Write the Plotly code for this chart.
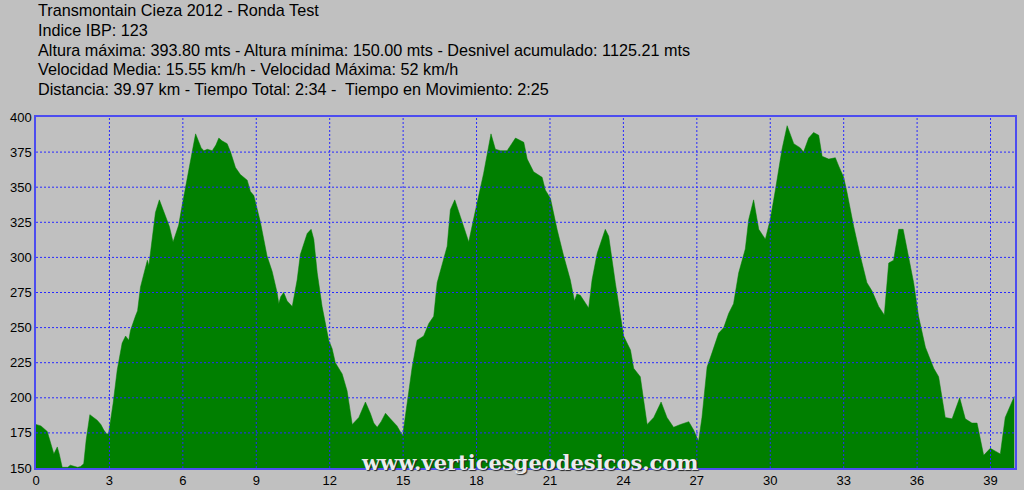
import plotly.graph_objects as go

# ---- data ----
distance_km = [0.00, 0.20, 0.46, 0.60, 0.73, 0.87, 0.95, 1.07, 1.30, 1.40, 1.55, 1.70, 1.82, 1.95,
               2.05, 2.20, 2.35, 2.50, 2.65, 2.77, 2.90, 2.97, 3.15, 3.32, 3.52, 3.66, 3.79, 3.86,
               4.06, 4.15, 4.27, 4.47, 4.55, 4.61, 4.68, 4.88, 5.04, 5.29, 5.45, 5.60, 5.83, 5.95,
               6.11, 6.38, 6.52, 6.65, 6.75, 6.86, 7.00, 7.20, 7.35, 7.47, 7.60, 7.81, 7.95, 8.15,
               8.35, 8.63, 8.76, 8.90, 9.17, 9.44, 9.65, 9.85, 9.92, 10.00, 10.12, 10.26, 10.47,
               10.67, 10.80, 11.08, 11.24, 11.35, 11.49, 11.69, 11.96, 12.10, 12.23, 12.51, 12.71,
               12.92, 13.19, 13.46, 13.66, 13.80, 13.94, 14.10, 14.28, 14.48, 14.75, 14.98, 15.16,
               15.37, 15.57, 15.84, 16.05, 16.25, 16.39, 16.59, 16.80, 16.93, 17.11, 17.34, 17.55,
               17.68, 17.85, 18.02, 18.29, 18.59, 18.77, 18.98, 19.25, 19.59, 19.93, 20.07, 20.33,
               20.68, 20.81, 21.02, 21.29, 21.56, 21.83, 22.00, 22.10, 22.24, 22.58, 22.72, 22.93,
               23.26, 23.40, 23.67, 24.01, 24.29, 24.42, 24.69, 24.97, 25.24, 25.54, 25.78, 26.05,
               26.33, 26.67, 26.87, 27.07, 27.21, 27.42, 27.62, 27.76, 27.89, 28.10, 28.30, 28.50,
               28.71, 28.98, 29.12, 29.32, 29.53, 29.80, 30.00, 30.21, 30.48, 30.69, 30.96, 31.23,
               31.36, 31.57, 31.77, 31.98, 32.12, 32.39, 32.66, 32.80, 33.00, 33.14, 33.41, 33.68,
               33.95, 34.16, 34.43, 34.66, 34.84, 35.04, 35.25, 35.43, 35.59, 35.86, 36.06, 36.34,
               36.68, 36.88, 37.15, 37.43, 37.74, 37.97, 38.24, 38.45, 38.72, 38.99, 39.20, 39.40,
               39.60, 39.97]
altitude_m = [181, 180, 176, 168, 160, 165, 160, 150.5, 150.5, 152, 151, 150.5, 151, 153,
              170, 188, 186, 184, 181, 177, 174, 175, 196, 220, 239, 244, 241, 248,
              258, 262, 279, 294, 298, 294, 303, 332, 341, 329, 322, 311, 323, 335,
              351, 375, 388, 383, 378, 376, 377, 376, 380, 385, 383, 381, 375, 364,
              359, 355, 347, 344, 325, 301, 290, 275, 267, 272, 275, 269, 265,
              284, 302, 317, 320, 313, 289, 265, 241, 235, 225, 217, 205,
              181, 186, 197, 189, 182, 179, 183, 189, 185, 180, 173, 196,
              222, 241, 244, 253, 258, 282, 295, 308, 334, 341, 329, 318,
              311, 325, 339, 360, 388, 377, 376, 376, 385, 382, 370, 361,
              357, 348, 342, 320, 301, 284, 269, 274, 273, 264, 284, 303,
              320, 315, 282, 244, 234, 221, 215, 181, 186, 197, 186, 179,
              181, 183, 177, 169, 186, 222, 232, 239, 246, 250, 260, 267,
              289, 306, 327, 341, 320, 313, 327, 348, 377, 393.8, 381, 378,
              375, 385, 389, 387, 372, 370, 371, 365, 357, 346, 322, 301,
              282, 276, 265, 259, 296, 298, 320, 320, 306, 282, 258, 236,
              221, 215, 186, 185, 200, 185, 182, 182, 159, 164, 162, 160,
              186, 201]

x_ticks = [0, 3, 6, 9, 12, 15, 18, 21, 24, 27, 30, 33, 36, 39]
y_ticks = [150, 175, 200, 225, 250, 275, 300, 325, 350, 375, 400]
x_range = [0, 40]
y_range = [150, 400]

header_lines = [
    "Transmontain Cieza 2012 - Ronda Test",
    "Indice IBP: 123",
    "Altura máxima: 393.80 mts - Altura mínima: 150.00 mts - Desnivel acumulado: 1125.21 mts",
    "Velocidad Media: 15.55 km/h - Velocidad Máxima: 52 km/h",
    "Distancia: 39.97 km - Tiempo Total: 2:34 -  Tiempo en Movimiento: 2:25",
]
watermark = "www.verticesgeodesicos.com"

# ---- figure ----
BG = "#c0c0c0"
GREEN = "#007f00"
GRID = "#2828ff"
BORDER = "#4c4cf0"

W, H = 1024, 490
ML, MR, MT, MB = 36, 9, 117, 22
plot_h = H - MT - MB

fig = go.Figure()
fig.add_trace(go.Scatter(
    x=distance_km, y=altitude_m, mode="lines", fill="tozeroy",
    fillcolor=GREEN, line=dict(color=GREEN, width=0.5),
    hoverinfo="x+y", showlegend=False,
))

shapes = []
for xv in x_ticks[1:]:
    shapes.append(dict(type="line", xref="x", yref="paper", x0=xv, x1=xv, y0=0, y1=1,
                       line=dict(color=GRID, width=1, dash="2px,2px"), layer="above"))
for yv in y_ticks[1:-1]:
    shapes.append(dict(type="line", xref="paper", yref="y", x0=0, x1=1, y0=yv, y1=yv,
                       line=dict(color=GRID, width=1, dash="2px,2px"), layer="above"))

annotations = []
line_centers = [10.5, 30, 49.5, 69, 88.5]
for txt, yc in zip(header_lines, line_centers):
    annotations.append(dict(
        text=txt, xref="paper", yref="paper", x=0, xanchor="left",
        y=(H - MB - yc) / plot_h, yanchor="middle", showarrow=False,
        font=dict(family="Liberation Sans, Arial, sans-serif", size=16.2, color="#000000"),
    ))
annotations.append(dict(
    text="<b>" + watermark + "</b>", xref="paper", yref="paper",
    x=(530 - ML) / (W - ML - MR), xanchor="center",
    y=(H - MB - 462) / plot_h, yanchor="middle", showarrow=False,
    font=dict(family="DejaVu Serif, Liberation Serif, serif", size=21, color="#ececec",
              shadow="1px 1px 1px #202020"),
))

axis_common = dict(showgrid=False, zeroline=False, showline=True, mirror=True,
                   linecolor=BORDER, linewidth=1.5, ticks="", automargin=False,
                   tickfont=dict(family="Liberation Sans, Arial, sans-serif", size=13, color="#000"),
                   layer="above traces")

fig.update_layout(
    width=W, height=H,
    margin=dict(l=ML, r=MR, t=MT, b=MB, autoexpand=False),
    paper_bgcolor=BG, plot_bgcolor=BG,
    shapes=shapes, annotations=annotations,
    xaxis=dict(range=x_range, tickvals=x_ticks, ticktext=[str(v) for v in x_ticks], **axis_common),
    yaxis=dict(range=y_range, tickvals=y_ticks, ticktext=[str(v) for v in y_ticks], **axis_common),
)

fig.write_html(
    "out.html",
    config={"displayModeBar": False},
    post_script="document.body.style.margin='0';document.body.style.background='#c0c0c0';",
)
